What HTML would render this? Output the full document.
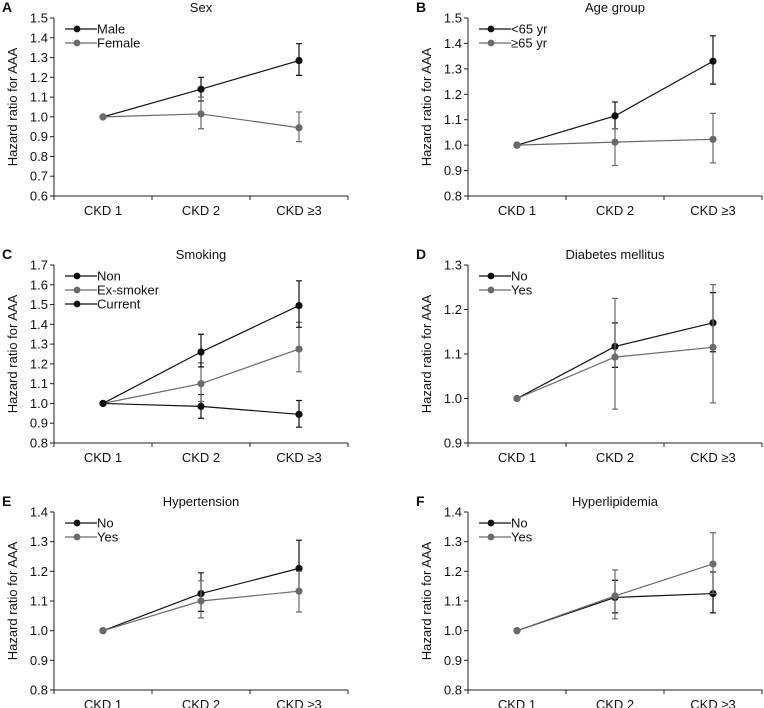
<!DOCTYPE html>
<html><head><meta charset="utf-8">
<style>
html,body{margin:0;padding:0;background:#fff;}
svg{display:block;font-family:"Liberation Sans",Arial,sans-serif;}
</style></head>
<body>
<svg id="fig" width="764" height="708" viewBox="0 0 764 708" xmlns="http://www.w3.org/2000/svg"></svg>
<script>
const categories = ["CKD 1","CKD 2","CKD \u22653"];
// Panel A
const aNames = ["Male","Female"];
const aMale = [1.0, 1.14, 1.285];
const aMaleLo = [1.0, 1.08, 1.21];
const aMaleHi = [1.0, 1.20, 1.37];
const aFemale = [1.0, 1.015, 0.945];
const aFemaleLo = [1.0, 0.94, 0.875];
const aFemaleHi = [1.0, 1.10, 1.025];
const aTicks = [0.6,0.7,0.8,0.9,1.0,1.1,1.2,1.3,1.4,1.5];
// Panel B
const bNames = ["<65 yr","\u226565 yr"];
const bYoung = [1.0, 1.115, 1.33];
const bYoungLo = [1.0, 1.065, 1.24];
const bYoungHi = [1.0, 1.17, 1.43];
const bOld = [1.0, 1.012, 1.023];
const bOldLo = [1.0, 0.92, 0.93];
const bOldHi = [1.0, 1.065, 1.125];
const bTicks = [0.8,0.9,1.0,1.1,1.2,1.3,1.4,1.5];
// Panel C
const cNames = ["Non","Ex-smoker","Current"];
const cNon = [1.0, 0.985, 0.945];
const cNonLo = [1.0, 0.925, 0.88];
const cNonHi = [1.0, 1.045, 1.015];
const cEx = [1.0, 1.10, 1.275];
const cExLo = [1.0, 1.01, 1.16];
const cExHi = [1.0, 1.205, 1.41];
const cCur = [1.0, 1.26, 1.495];
const cCurLo = [1.0, 1.185, 1.385];
const cCurHi = [1.0, 1.35, 1.62];
const cTicks = [0.8,0.9,1.0,1.1,1.2,1.3,1.4,1.5,1.6,1.7];
// Panel D
const dNames = ["No","Yes"];
const dNo = [1.0, 1.117, 1.17];
const dNoLo = [1.0, 1.07, 1.105];
const dNoHi = [1.0, 1.17, 1.238];
const dYes = [1.0, 1.093, 1.115];
const dYesLo = [1.0, 0.976, 0.99];
const dYesHi = [1.0, 1.225, 1.256];
const dTicks = [0.9,1.0,1.1,1.2,1.3];
// Panel E
const eNames = ["No","Yes"];
const eNo = [1.0, 1.125, 1.21];
const eNoLo = [1.0, 1.065, 1.13];
const eNoHi = [1.0, 1.195, 1.305];
const eYes = [1.0, 1.10, 1.133];
const eYesLo = [1.0, 1.043, 1.063];
const eYesHi = [1.0, 1.168, 1.20];
const eTicks = [0.8,0.9,1.0,1.1,1.2,1.3,1.4];
// Panel F
const fNames = ["No","Yes"];
const fNo = [1.0, 1.112, 1.125];
const fNoLo = [1.0, 1.06, 1.06];
const fNoHi = [1.0, 1.17, 1.198];
const fYes = [1.0, 1.117, 1.225];
const fYesLo = [1.0, 1.04, 1.125];
const fYesHi = [1.0, 1.205, 1.33];
const fTicks = [0.8,0.9,1.0,1.1,1.2,1.3,1.4];

const NS = "http://www.w3.org/2000/svg";
const svg = document.getElementById("fig");
const BLACK = "#111", GREY = "#6a6a6a";
function mk(tag, attrs, parent){
  const e = document.createElementNS(NS, tag);
  for (const k in attrs) e.setAttribute(k, attrs[k]);
  (parent||svg).appendChild(e);
  return e;
}
function txt(x,y,s,size,anchor,parent,weight){
  const t = mk("text",{x:x,y:y,"font-size":size,"text-anchor":anchor||"start",fill:"#111","font-weight":weight||"normal"},parent);
  t.textContent = s;
  return t;
}

function panel(opt){
  const g = mk("g",{});
  
  
  const x0 = opt.x0, top = opt.top, bot = top + 178, x1 = x0 + 294;
  const ymin = opt.ticks[0], ymax = opt.ticks[opt.ticks.length-1];
  const yS = v => bot - (v - ymin) / (ymax - ymin) * (bot - top);
  const band = (x1 - x0) / categories.length;
  const xS = i => x0 + band * (i + 0.5);

  const lt = txt(x0 - 52, top - 6, opt.letter, 14, "start", g, "bold");
  
  
  const tt = txt((x0 + x1) / 2, top - 6, opt.title, 13, "middle", g);
  
  

  const yt = txt(0,0,"Hazard ratio for AAA",13,"middle",g);
  yt.setAttribute("transform","translate("+(x0-37)+","+((top+bot)/2)+") rotate(-90)");
  
  

  // axes
  const ya = mk("line",{x1:x0,y1:top,x2:x0,y2:bot,stroke:"#222","stroke-width":1},g);
  
  
  const xa = mk("line",{x1:x0,y1:bot,x2:x1,y2:bot,stroke:"#222","stroke-width":1},g);
  
  
  opt.ticks.forEach(v=>{
    const y = yS(v);
    mk("line",{x1:x0-4,y1:y,x2:x0,y2:y,stroke:"#222","stroke-width":1},g);
    const l = txt(x0-6, y+4.5, v.toFixed(1), 13, "end", g);
    
    
  });
  for (let i=0;i<=categories.length;i++){
    const x = x0 + band*i;
    mk("line",{x1:x,y1:bot,x2:x,y2:bot+4,stroke:"#222","stroke-width":1},g);
  }
  categories.forEach((c,i)=>{
    const l = txt(xS(i), bot+19, c, 13, "middle", g);
    
    
  });

  // series
  opt.series.forEach((s,si)=>{
    const sg = mk("g",{},g);
    
    
    s.vals.forEach((v,i)=>{
      if (s.hi[i] === s.lo[i]) return;
      const x = xS(i);
      const eb = mk("path",{d:"M"+x+","+yS(s.lo[i])+"V"+yS(s.hi[i])+"M"+(x-3)+","+yS(s.lo[i])+"h6M"+(x-3)+","+yS(s.hi[i])+"h6",stroke:s.color,"stroke-width":1.2,fill:"none"},sg);
      
      
    });
    const pts = s.vals.map((v,i)=>xS(i)+","+yS(v)).join(" ");
    const pl = mk("polyline",{points:pts,stroke:s.color,"stroke-width":1.2,fill:"none"},sg);
    
    
    s.vals.forEach((v,i)=>{
      const c = mk("circle",{cx:xS(i),cy:yS(v),r:3.6,fill:s.color},sg);
      
      
    });
    // legend
    const ly = top + 11 + si*14;
    const le = mk("g",{},g);
    
    
    mk("line",{x1:x0+11,y1:ly,x2:x0+43,y2:ly,stroke:s.color,"stroke-width":1.2},le);
    mk("circle",{cx:x0+23,cy:ly,r:3.4,fill:s.color},le);
    txt(x0+43, ly+4.5, s.name, 13, "start", le);
  });
}

panel({key:"sex",letter:"A",title:"Sex",x0:54,top:18,ticks:aTicks,series:[
  {name:aNames[0],color:BLACK,vals:aMale,lo:aMaleLo,hi:aMaleHi},
  {name:aNames[1],color:GREY,vals:aFemale,lo:aFemaleLo,hi:aFemaleHi}]});
panel({key:"age",letter:"B",title:"Age group",x0:468,top:18,ticks:bTicks,series:[
  {name:bNames[0],color:BLACK,vals:bYoung,lo:bYoungLo,hi:bYoungHi},
  {name:bNames[1],color:GREY,vals:bOld,lo:bOldLo,hi:bOldHi}]});
panel({key:"smoking",letter:"C",title:"Smoking",x0:54,top:265,ticks:cTicks,series:[
  {name:cNames[0],color:BLACK,vals:cNon,lo:cNonLo,hi:cNonHi},
  {name:cNames[1],color:GREY,vals:cEx,lo:cExLo,hi:cExHi},
  {name:cNames[2],color:BLACK,vals:cCur,lo:cCurLo,hi:cCurHi}]});
panel({key:"diabetes",letter:"D",title:"Diabetes mellitus",x0:468,top:265,ticks:dTicks,series:[
  {name:dNames[0],color:BLACK,vals:dNo,lo:dNoLo,hi:dNoHi},
  {name:dNames[1],color:GREY,vals:dYes,lo:dYesLo,hi:dYesHi}]});
panel({key:"hypertension",letter:"E",title:"Hypertension",x0:54,top:512,ticks:eTicks,series:[
  {name:eNames[0],color:BLACK,vals:eNo,lo:eNoLo,hi:eNoHi},
  {name:eNames[1],color:GREY,vals:eYes,lo:eYesLo,hi:eYesHi}]});
panel({key:"hyperlipidemia",letter:"F",title:"Hyperlipidemia",x0:468,top:512,ticks:fTicks,series:[
  {name:fNames[0],color:BLACK,vals:fNo,lo:fNoLo,hi:fNoHi},
  {name:fNames[1],color:GREY,vals:fYes,lo:fYesLo,hi:fYesHi}]});
</script>
</body></html>
